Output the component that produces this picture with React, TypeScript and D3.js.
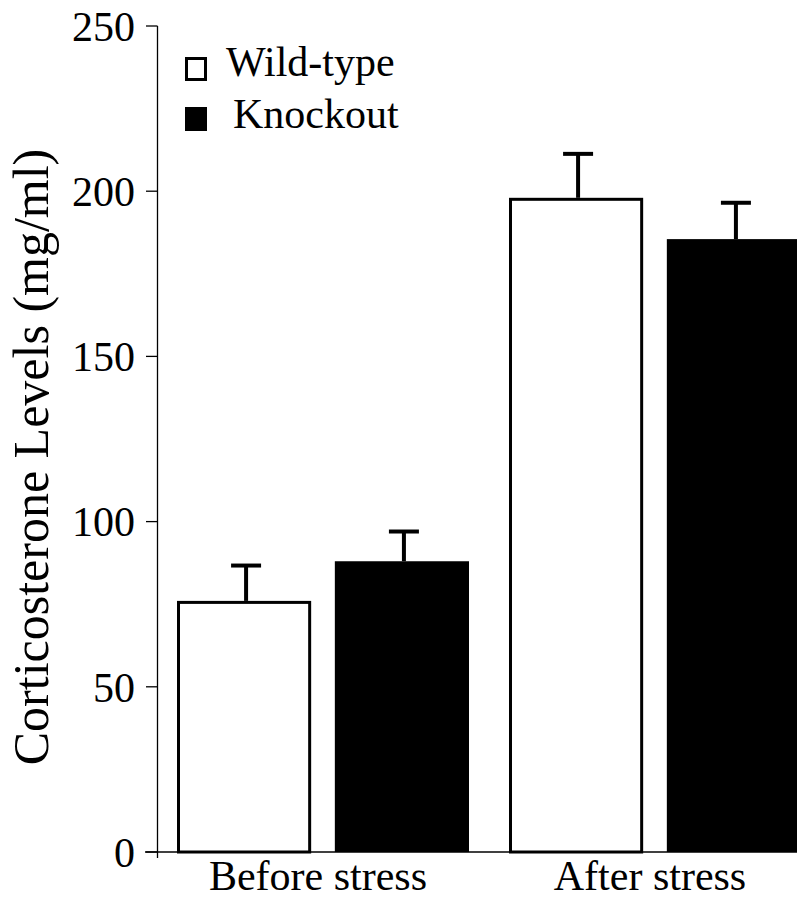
import React from "react";
import * as d3 from "d3";

const groups = ["Before stress", "After stress"];
const seriesNames = ["Wild-type", "Knockout"];
const wildType = [76, 198];
const wildTypeErr = [10.7, 13.3];
const knockout = [88, 185.5];
const knockoutErr = [9, 11];
const yTicks = [0, 50, 100, 150, 200, 250];

const W = 797;
const H = 899;
const FONT = "'Liberation Serif', 'Times New Roman', serif";

export default function App() {
  const y = d3.scaleLinear().domain([0, 250]).range([852, 26]);
  const x0 = d3
    .scaleBand<string>()
    .domain(groups)
    .range([157, 821])
    .paddingInner(40 / 332)
    .paddingOuter(20 / 332);
  const x1 = d3
    .scaleBand<string>()
    .domain(seriesNames)
    .range([0, x0.bandwidth()])
    .paddingInner(0.15);

  const values = [wildType, knockout];
  const errs = [wildTypeErr, knockoutErr];
  const axisX = 157.5;
  const sw = 3;

  return (
    <svg
      width={W}
      height={H}
      style={{ position: "absolute", left: 0, top: 0, background: "#fff" }}
      fontFamily={FONT}
    >
      <rect x={0} y={0} width={W} height={H} fill="#fff" />
      {groups.map((g, gi) =>
        seriesNames.map((s, si) => {
          const v = values[si][gi];
          const e = errs[si][gi];
          const bx = (x0(g) as number) + (x1(s) as number);
          const bw = x1.bandwidth();
          const top = y(v);
          const cx = bx + bw / 2 + 2;
          const filled = si === 1;
          return (
            <g key={g + s}>
              <line x1={cx} x2={cx} y1={top} y2={y(v + e)} stroke="#000" strokeWidth={4} />
              <line x1={cx - 15} x2={cx + 15} y1={y(v + e)} y2={y(v + e)} stroke="#000" strokeWidth={4} />
              {filled ? (
                <rect x={bx} y={top} width={bw} height={y(0) - top} fill="#000" />
              ) : (
                <rect
                  x={bx + sw / 2}
                  y={top + sw / 2}
                  width={bw - sw}
                  height={y(0) - top - sw / 2}
                  fill="#fff"
                  stroke="#000"
                  strokeWidth={sw}
                />
              )}
            </g>
          );
        })
      )}
      {/* axes */}
      <line x1={axisX} x2={axisX} y1={y(250)} y2={858} stroke="#000" strokeWidth={1.3} />
      <line x1={145} x2={W} y1={y(0)} y2={y(0)} stroke="#000" strokeWidth={1.5} />
      {yTicks.map((t) => (
        <g key={t}>
          <line x1={146} x2={axisX} y1={y(t)} y2={y(t)} stroke="#000" strokeWidth={1.3} />
          <text
            x={135}
            y={y(t)}
            dy="0.35em"
            textAnchor="end"
            fontSize={42}
            fill="#000"
          >
            {t}
          </text>
        </g>
      ))}
      {groups.map((g) => (
        <text
          key={g}
          x={(x0(g) as number) + x0.bandwidth() / 2 - 5}
          y={890}
          textAnchor="middle"
          fontSize={42}
          fill="#000"
        >
          {g}
        </text>
      ))}
      <text
        transform={`translate(48, 457) rotate(-90)`}
        textAnchor="middle"
        fontSize={50}
        fill="#000"
      >
        Corticosterone Levels (mg/ml)
      </text>
      {/* legend */}
      <rect x={186.5} y={58.5} width={19} height={21} fill="#fff" stroke="#000" strokeWidth={3} />
      <text x={226} y={76} fontSize={42} fill="#000">
        {seriesNames[0]}
      </text>
      <rect x={185} y={107} width={22} height={24} fill="#000" />
      <text x={233} y={128} fontSize={42} fill="#000">
        {seriesNames[1]}
      </text>
    </svg>
  );
}
